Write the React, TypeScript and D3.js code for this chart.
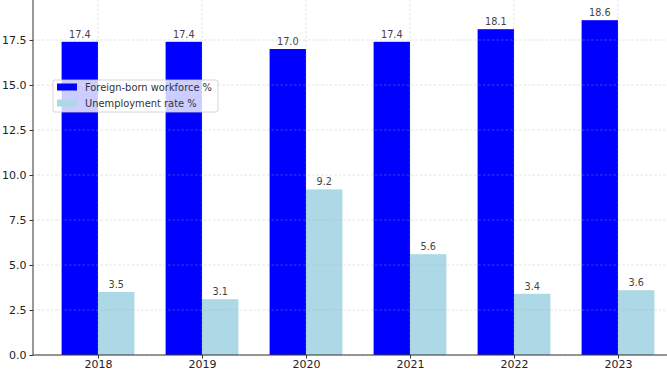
import { useEffect, useRef } from "react";
import * as d3 from "d3";

const years = ["2018", "2019", "2020", "2021", "2022", "2023"];
const foreignBorn = [17.4, 17.4, 17.0, 17.4, 18.1, 18.6];
const unemployment = [3.5, 3.1, 9.2, 5.6, 3.4, 3.6];
const yTicks = [0, 2.5, 5, 7.5, 10, 12.5, 15, 17.5, 20];

const seriesInfo = [
  { label: "Foreign-born workforce %", color: "#0000ff", values: foreignBorn, offset: -0.175 },
  { label: "Unemployment rate %", color: "#add8e6", values: unemployment, offset: 0.175 },
];

const WIDTH = 667;
const HEIGHT = 371;
const FONT = "DejaVu Sans, sans-serif";

export default function App() {
  const svgRef = useRef<SVGSVGElement>(null);

  useEffect(() => {
    if (!svgRef.current) return;
    const svg = d3.select(svgRef.current);
    svg.selectAll("*").remove();

    const barW = 0.35;
    // plot area partly outside the picture (cropped figure)
    const x = d3.scaleLinear().domain([-0.625, 5.625]).range([33, 683]);
    const y = d3.scaleLinear().domain([0, 20]).range([355, -5]);

    // bars
    seriesInfo.forEach((s) => {
      svg
        .append("g")
        .selectAll("rect")
        .data(s.values)
        .join("rect")
        .attr("x", (_, i) => x(i + s.offset - barW / 2))
        .attr("y", (d) => y(d))
        .attr("width", x(barW) - x(0))
        .attr("height", (d) => y(0) - y(d))
        .attr("fill", s.color);
    });

    // grid (drawn above bars, like the original)
    const grid = svg.append("g");
    const gridLine = (sel: d3.Selection<SVGLineElement, unknown, null, undefined>) =>
      sel
        .attr("stroke", "#b0b0b0")
        .attr("stroke-opacity", 0.45)
        .attr("stroke-width", 0.8)
        .attr("stroke-dasharray", "2.5,2");
    yTicks.forEach((t) => {
      grid
        .append("line")
        .attr("x1", 33)
        .attr("x2", WIDTH)
        .attr("y1", y(t))
        .attr("y2", y(t))
        .call(gridLine);
    });
    years.forEach((_, i) => {
      grid
        .append("line")
        .attr("x1", x(i))
        .attr("x2", x(i))
        .attr("y1", y(20))
        .attr("y2", y(0))
        .call(gridLine);
    });

    // value labels
    seriesInfo.forEach((s) => {
      svg
        .append("g")
        .selectAll("text")
        .data(s.values)
        .join("text")
        .attr("x", (_, i) => x(i + s.offset))
        .attr("y", (d) => y(d) - 4)
        .attr("text-anchor", "middle")
        .attr("font-family", FONT)
        .attr("font-size", "9.7px")
        .attr("fill", "#444")
        .text((d) => d.toFixed(1));
    });

    // axes
    const yAxis = d3
      .axisLeft(y)
      .tickValues(yTicks)
      .tickFormat((d) => (d as number).toFixed(1))
      .tickSize(3.5)
      .tickPadding(3);
    const yg = svg.append("g").attr("transform", "translate(33,0)").call(yAxis);
    yg.select(".domain").attr("d", `M0,${y(20)}V${y(0)}`).attr("stroke", "#333").attr("stroke-width", 1);

    const xAxis = d3
      .axisBottom(x)
      .tickValues(years.map((_, i) => i))
      .tickFormat((d) => years[d as number])
      .tickSize(3.5)
      .tickPadding(2);
    const xg = svg.append("g").attr("transform", `translate(0,${y(0)})`).call(xAxis);
    xg.select(".domain").attr("d", `M33,0H${WIDTH}`).attr("stroke", "#333").attr("stroke-width", 1);

    [yg, xg].forEach((g) => {
      g.selectAll(".tick line").attr("stroke", "#333");
      g.selectAll("text")
        .attr("font-family", FONT)
        .attr("font-size", "11px")
        .attr("fill", "#222");
    });

    // legend
    const legend = svg.append("g").attr("transform", "translate(53,80)");
    legend
      .append("rect")
      .attr("width", 165)
      .attr("height", 32)
      .attr("rx", 2)
      .attr("fill", "#fff")
      .attr("fill-opacity", 0.8)
      .attr("stroke", "#ccc")
      .attr("stroke-width", 0.8);
    seriesInfo.forEach((s, i) => {
      const row = legend.append("g").attr("transform", `translate(0,${7 + i * 16})`);
      row
        .append("rect")
        .attr("x", 4)
        .attr("y", -3.5)
        .attr("width", 20)
        .attr("height", 7)
        .attr("fill", s.color);
      row
        .append("text")
        .attr("x", 32)
        .attr("y", 3.5)
        .attr("font-family", FONT)
        .attr("font-size", "9.9px")
        .attr("fill", "#333")
        .text(s.label);
    });
  }, []);

  return (
    <svg
      ref={svgRef}
      width={WIDTH}
      height={HEIGHT}
      style={{ position: "absolute", left: 0, top: 0, background: "#fff" }}
    />
  );
}
